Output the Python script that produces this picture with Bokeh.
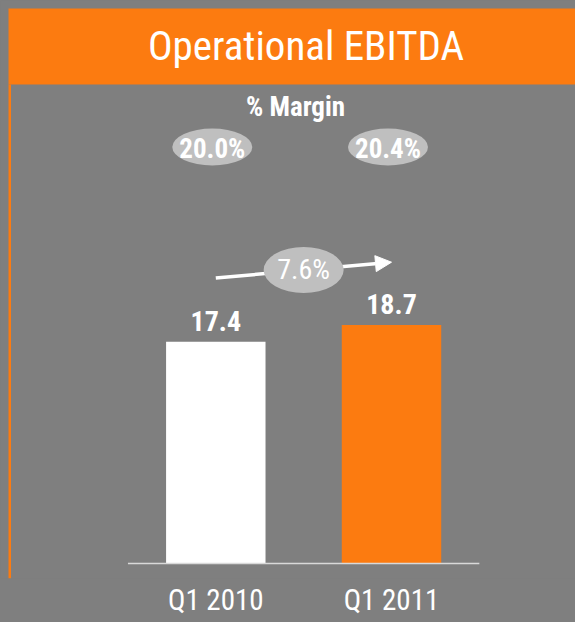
from bokeh.plotting import figure
from bokeh.models import Range1d, FixedTicker, Arrow, NormalHead, ColumnDataSource
from bokeh.core.properties import value
from bokeh.embed import file_html
from bokeh.resources import INLINE

# ---------------- data ----------------
title_text = "Operational EBITDA"
margin_title = "% Margin"
categories = ["Q1 2010", "Q1 2011"]
ebitda = [17.4, 18.7]
margins = ["20.0%", "20.4%"]
growth = "7.6%"
bar_colors = ["#ffffff", "#fc7b10"]

# ---------------- layout / style ----------------
W, H = 575, 622
MB = 44           # bottom border reserved for category labels
FB = H - MB       # frame bottom (pixels from top)
BASE = 563        # pixel row of value 0
PXU_Y = 12.75     # pixels per EBITDA unit
PXU_X = 175.7     # pixels per category step
X0 = 215.3        # pixel column of first category

BG = "#7f7f7f"
ORANGE = "#fc7b10"
PILL = "#bfbfbf"
FONT = "Roboto Condensed"

idx = list(range(len(categories)))

x_range = Range1d(-X0 / PXU_X, (W - X0) / PXU_X)
y_range = Range1d(-(FB - BASE) / PXU_Y, BASE / PXU_Y)

p = figure(width=W, height=H, x_range=x_range, y_range=y_range,
           output_backend="svg", toolbar_location=None, y_axis_location=None,
           min_border=0, min_border_bottom=MB,
           background_fill_color=BG, border_fill_color=BG,
           outline_line_color=None)
p.styles = {"background-color": BG}
p.extra_x_ranges = {"px": Range1d(0, W)}
p.extra_y_ranges = {"py": Range1d(FB, 0)}
p.grid.visible = False

# header band
p.quad(left=[8], right=[W], top=[8], bottom=[84], x_range_name="px", y_range_name="py",
       fill_color=ORANGE, line_color=None)
# thin left rule
p.quad(left=[8], right=[10.5], top=[84], bottom=[FB], x_range_name="px", y_range_name="py",
       fill_color=ORANGE, line_color=None)
p.text(x=[305.5], y=[45.5], text=[title_text], x_range_name="px", y_range_name="py",
       text_font=value(FONT), text_font_size="41px", text_color="white",
       text_align="center", text_baseline="middle")

# % Margin
p.text(x=[295], y=[106], text=[margin_title], x_range_name="px", y_range_name="py",
       text_font=value(FONT), text_font_size="27px", text_font_style="bold",
       text_color="white", text_align="center", text_baseline="middle")
mx = [i - 0.02 for i in idx]
p.ellipse(x=mx, y=[146.5] * len(idx), width=80, height=37, width_units="screen",
          height_units="screen", y_range_name="py", fill_color=PILL, line_color=None)
p.text(x=mx, y=[148] * len(idx), text=margins, y_range_name="py",
       text_font=value(FONT), text_font_size="27px", text_font_style="bold",
       text_color="white", text_align="center", text_baseline="middle")

# growth arrow
arrow = Arrow(x_start=idx[0], y_start=277.5, x_end=idx[-1], y_end=261.7, y_range_name="py",
              line_color="white", line_width=3.5, level="underlay",
              end=NormalHead(size=16, fill_color="white", line_color="white", line_width=1))
p.add_layout(arrow)
gx = [(idx[0] + idx[-1]) / 2]
p.ellipse(x=gx, y=[269.5], width=80, height=46, width_units="screen", height_units="screen",
          y_range_name="py", fill_color=PILL, line_color=None)
p.text(x=gx, y=[268.5], text=[growth], y_range_name="py",
       text_font=value(FONT), text_font_size="28px",
       text_color="white", text_align="center", text_baseline="middle")

# bars
src = ColumnDataSource(dict(x=idx, top=ebitda, color=bar_colors,
                            label=[f"{v:.1f}" for v in ebitda]))
p.vbar(x="x", top="top", bottom=0, width=0.566, fill_color="color", line_color=None, source=src)
p.text(x="x", y="top", text="label", y_offset=-20.7, source=src,
       text_font=value(FONT), text_font_size="28px", text_font_style="bold",
       text_color="white", text_align="center", text_baseline="middle")
p.segment(x0=[idx[0] - 0.5], x1=[idx[-1] + 0.5], y0=[0], y1=[0],
          line_color="#d9d9d9", line_width=1.5)

# x axis (category labels)
ax = p.xaxis[0]
ax.ticker = FixedTicker(ticks=idx)
ax.major_label_overrides = {i: c for i, c in zip(idx, categories)}
ax.axis_line_color = None
ax.major_tick_line_color = None
ax.minor_tick_line_color = None
ax.major_tick_out = 0
ax.major_tick_in = 0
ax.major_label_standoff = 4
ax.major_label_text_font = FONT
ax.major_label_text_font_size = "29px"
ax.major_label_text_color = "white"

open("out.html", "w").write(file_html(p, INLINE, title=title_text))
